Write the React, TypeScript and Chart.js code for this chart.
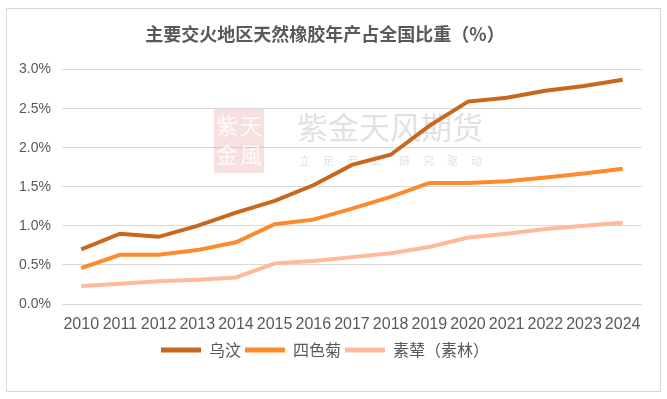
import React, { useEffect, useRef } from "react";
import { Chart, registerables } from "chart.js";

Chart.register(...registerables);

const TITLE = "主要交火地区天然橡胶年产占全国比重（%）";
const YEARS = ["2010", "2011", "2012", "2013", "2014", "2015", "2016", "2017", "2018", "2019", "2020", "2021", "2022", "2023", "2024"];
const SERIES_NAMES = ["乌汶", "四色菊", "素辇（素林）"];
const WUWEN = [0.70, 0.90, 0.86, 1.00, 1.17, 1.32, 1.52, 1.78, 1.91, 2.28, 2.59, 2.64, 2.73, 2.79, 2.87];
const SISAKET = [0.46, 0.63, 0.63, 0.69, 0.79, 1.02, 1.08, 1.22, 1.37, 1.55, 1.55, 1.57, 1.62, 1.67, 1.73];
const SURIN = [0.23, 0.26, 0.29, 0.31, 0.34, 0.52, 0.55, 0.60, 0.65, 0.73, 0.85, 0.90, 0.96, 1.00, 1.04];
const COLORS = ["#C8671E", "#FF8A2B", "#FFB99B"];
const Y_MAX = 3.0;
const Y_STEP = 0.5;

const watermark = {
  id: "watermark",
  beforeDatasetsDraw(chart: any) {
    const ctx = chart.ctx;
    ctx.save();
    ctx.fillStyle = "rgba(232,160,160,0.32)";
    ctx.fillRect(207, 100, 50, 64);
    ctx.fillStyle = "rgba(255,255,255,0.85)";
    ctx.font = "22px 'Noto Sans CJK SC'";
    ctx.textAlign = "center";
    ctx.textBaseline = "middle";
    ctx.fillText("紫", 220, 117);
    ctx.fillText("天", 244, 117);
    ctx.fillText("金", 220, 146);
    ctx.fillText("風", 244, 146);
    ctx.fillStyle = "rgba(200,200,200,0.55)";
    ctx.font = "31px 'Noto Sans CJK SC'";
    ctx.textAlign = "left";
    ctx.fillText("紫金天风期货", 290, 118);
    ctx.font = "11px 'Noto Sans CJK SC'";
    const sub = "立足产业研究驱动".split("");
    sub.forEach((c, i) => {
      const x = 292 + i * 24 + (i >= 4 ? 4 : 0);
      ctx.fillText(c, x, 152);
    });
    ctx.restore();
  },
};

export default function App() {
  const ref = useRef<HTMLCanvasElement | null>(null);
  useEffect(() => {
    if (!ref.current) return;
    const data = [WUWEN, SISAKET, SURIN];
    const chart = new Chart(ref.current, {
      type: "line",
      data: {
        labels: YEARS,
        datasets: SERIES_NAMES.map((name, i) => ({
          label: name,
          data: data[i],
          borderColor: COLORS[i],
          backgroundColor: COLORS[i],
          borderWidth: 4,
          pointRadius: 0,
          tension: 0,
          fill: false,
        })),
      },
      options: {
        animation: false,
        responsive: false,
        maintainAspectRatio: false,
        layout: { padding: { top: 14, left: 1, right: 18, bottom: 23 } },
        plugins: {
          title: {
            display: true,
            text: TITLE,
            color: "#595959",
            font: { family: "'Noto Sans CJK SC'", size: 18, weight: "bold" },
            padding: { top: 0, bottom: 25 },
          },
          legend: {
            position: "bottom",
            labels: {
              color: "#595959",
              font: { family: "'Noto Sans CJK SC'", size: 16 },
              boxWidth: 40,
              boxHeight: 5,
              padding: 4,
              generateLabels: (c: any) =>
                c.data.datasets.map((d: any, i: number) => ({
                  text: d.label,
                  fillStyle: d.borderColor,
                  strokeStyle: d.borderColor,
                  lineWidth: 0,
                  datasetIndex: i,
                  fontColor: "#595959",
                })),
            },
          },
          tooltip: { enabled: false },
        },
        scales: {
          x: {
            offset: true,
            grid: { display: false },
            border: { display: false },
            ticks: {
              color: "#595959",
              font: { family: "'Liberation Sans'", size: 16, lineHeight: 1.0 },
              maxRotation: 0,
              autoSkip: false,
              padding: 5,
            },
          },
          y: {
            min: 0,
            max: Y_MAX,
            grid: { color: "#D9D9D9", lineWidth: 1, drawTicks: false },
            border: { display: false },
            ticks: {
              stepSize: Y_STEP,
              color: "#595959",
              font: { family: "'Liberation Sans'", size: 14 },
              padding: 11,
              callback: (v: any) => Number(v).toFixed(1) + "%",
            },
          },
        },
      },
      plugins: [watermark],
    });
    return () => chart.destroy();
  }, []);
  return (
    <div
      style={{
        position: "absolute",
        left: 6,
        top: 8,
        width: 653,
        height: 382,
        border: "1px solid #D9D9D9",
        background: "#fff",
      }}
    >
      <canvas ref={ref} width={653} height={382} style={{ display: "block" }} />
    </div>
  );
}
